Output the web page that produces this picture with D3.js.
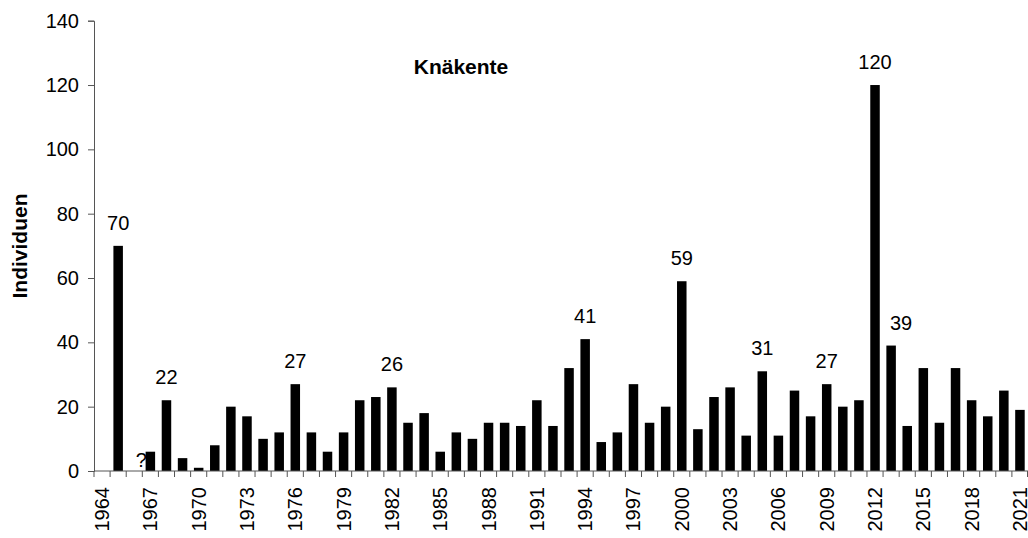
<!DOCTYPE html>
<html>
<head>
    <meta charset="UTF-8">
    <title>Knäkente</title>
    <script src="https://cdnjs.cloudflare.com/ajax/libs/d3/7.8.5/d3.min.js" charset="utf-8"></script>
    <style>
        body { margin: 0; background: #fff; }
        svg { display: block; font-family: "Liberation Sans", Arial, sans-serif; }
    </style>
</head>
<body>

<svg id="chart" width="1028" height="538"></svg>

<script type="text/javascript">

// years 1964..2021, one bar per year (null = no count)
var years = [
    1964, 1965, 1966, 1967, 1968, 1969, 1970, 1971, 1972, 1973,
    1974, 1975, 1976, 1977, 1978, 1979, 1980, 1981, 1982, 1983,
    1984, 1985, 1986, 1987, 1988, 1989, 1990, 1991, 1992, 1993,
    1994, 1995, 1996, 1997, 1998, 1999, 2000, 2001, 2002, 2003,
    2004, 2005, 2006, 2007, 2008, 2009, 2010, 2011, 2012, 2013,
    2014, 2015, 2016, 2017, 2018, 2019, 2020, 2021
];

var counts = [
    null, 70, null, 6, 22, 4, 1, 8, 20, 17,
    10, 12, 27, 12, 6, 12, 22, 23, 26, 15,
    18, 6, 12, 10, 15, 15, 14, 22, 14, 32,
    41, 9, 12, 27, 15, 20, 59, 13, 23, 26,
    11, 31, 11, 25, 17, 27, 20, 22, 120, 39,
    14, 32, 15, 32, 22, 17, 25, 19
];

// years that get a value label, and a sideways nudge for crowded ones
var labelYears = [1965, 1968, 1976, 1982, 1994, 2000, 2005, 2009, 2012, 2013];
var labelNudge = [0, 0, 0, 0, 0, 0, 0, 0, 0, 10];

// year without data, marked with a question mark
var unknownYears = [1966];

var yTicks = [0, 20, 40, 60, 80, 100, 120, 140];
var tickYears = years.filter(function(y) { return (y - 1964) % 3 === 0; });

var svg = d3.select("#chart");

// plot area (note: "top" is taken by window.top, so use plot* names)
var plotLeft = 94, plotRight = 1028, plotTop = 20.7, plotBottom = 471;

var x = d3.scaleBand()
    .domain(years)
    .range([plotLeft, plotRight])
    .paddingInner(0)
    .paddingOuter(0);

var y = d3.scaleLinear()
    .domain([0, 140])
    .range([plotBottom, plotTop]);

var barWidth = x.bandwidth() * 0.59;

function countOf(yr) {
    return counts[years.indexOf(yr)];
}

// bars
svg.append("g")
    .selectAll("rect")
    .data(years.filter(function(yr) { return countOf(yr) !== null; }))
    .join("rect")
    .attr("x", function(yr) { return x(yr) + (x.bandwidth() - barWidth) / 2; })
    .attr("y", function(yr) { return y(countOf(yr)); })
    .attr("width", barWidth)
    .attr("height", function(yr) { return plotBottom - y(countOf(yr)); })
    .attr("fill", "#000");

// y axis
var yAxis = svg.append("g")
    .attr("transform", "translate(" + plotLeft + ",0)")
    .call(d3.axisLeft(y).tickValues(yTicks).tickSize(6).tickPadding(9));

yAxis.selectAll("text").attr("font-size", 20).attr("fill", "#000").attr("font-family", null);
yAxis.select(".domain").attr("stroke", "#555");
yAxis.selectAll(".tick line").attr("stroke", "#555");

// x axis: ticks on band edges, labels every third year, rotated
var xAxis = svg.append("g")
    .attr("transform", "translate(0," + plotBottom + ")");

xAxis.append("line")
    .attr("x1", plotLeft).attr("x2", plotRight)
    .attr("y1", 0).attr("y2", 0)
    .attr("stroke", "#555");

xAxis.selectAll("line.tick")
    .data(years.concat([2022]))
    .join("line")
    .attr("class", "tick")
    .attr("x1", function(yr) { return yr === 2022 ? plotRight - 0.5 : x(yr); })
    .attr("x2", function(yr) { return yr === 2022 ? plotRight - 0.5 : x(yr); })
    .attr("y1", 0)
    .attr("y2", 6)
    .attr("stroke", "#555");

xAxis.selectAll("text")
    .data(tickYears)
    .join("text")
    .attr("transform", function(yr) {
        return "translate(" + (x(yr) + x.bandwidth() / 2) + ",16) rotate(-90)";
    })
    .attr("text-anchor", "end")
    .attr("dy", "0.35em")
    .attr("font-size", 20)
    .text(function(yr) { return yr; });

// value labels above selected bars
svg.append("g")
    .selectAll("text")
    .data(labelYears)
    .join("text")
    .attr("x", function(yr, i) { return x(yr) + x.bandwidth() / 2 + labelNudge[i]; })
    .attr("y", function(yr) { return y(countOf(yr)) - 16; })
    .attr("text-anchor", "middle")
    .attr("font-size", 20)
    .text(function(yr) { return countOf(yr); });

// question mark for the missing year
svg.append("g")
    .selectAll("text")
    .data(unknownYears)
    .join("text")
    .attr("x", function(yr) { return x(yr) + x.bandwidth() / 2 + 7; })
    .attr("y", plotBottom - 4)
    .attr("text-anchor", "middle")
    .attr("font-size", 20)
    .text("?");

// title and y label
svg.append("text")
    .attr("x", 461)
    .attr("y", 74)
    .attr("text-anchor", "middle")
    .attr("font-size", 21)
    .attr("font-weight", "bold")
    .text("Knäkente");

svg.append("text")
    .attr("transform", "translate(27,246) rotate(-90)")
    .attr("text-anchor", "middle")
    .attr("font-size", 21)
    .attr("font-weight", "bold")
    .text("Individuen");

</script>
</body>
</html>
